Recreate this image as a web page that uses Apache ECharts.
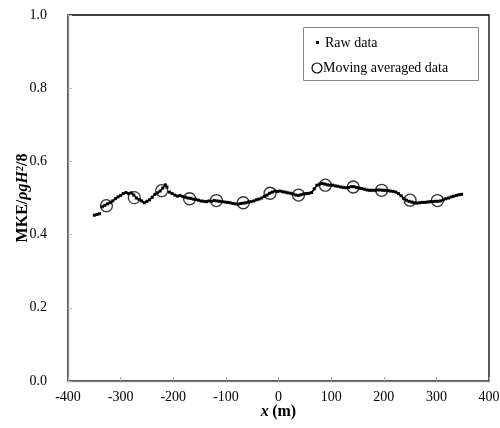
<!DOCTYPE html>
<html>
<head>
<meta charset="utf-8">
<script src="https://cdn.jsdelivr.net/npm/echarts@6/dist/echarts.min.js"></script>
<style>html,body{margin:0;padding:0;background:#fff}#c{width:500px;height:428px}</style>
</head>
<body>
<div id="c"></div>
<script>
var xTicks = [-400, -300, -200, -100, 0, 100, 200, 300, 400];
var yTicks = [0.0, 0.2, 0.4, 0.6, 0.8, 1.0];

var rawX = [-350,-345,-340,-338,-335,-330,-325,-320,-315,-310,-305,-300,-295,-290,-285,-280,-275,-270,-265,-260,-255,-250,-245,-240,-235,-230,-225,-220,-215,-212,-210,-207,-202,-197,-192,-187,-182,-177,-172,-167,-162,-157,-152,-147,-142,-137,-132,-127,-122,-117,-112,-107,-102,-97,-92,-87,-82,-77,-72,-67,-62,-57,-52,-47,-42,-37,-32,-27,-22,-17,-12,-7,-2,3,8,13,18,23,28,33,38,43,48,53,58,63,68,73,78,83,88,93,98,103,108,113,118,123,128,133,138,143,148,153,158,163,168,173,178,183,188,193,198,203,208,213,218,223,228,233,238,243,248,253,258,263,268,273,278,283,288,293,298,303,308,313,318,323,328,333,338,343,348];
var rawY = [0.453,0.455,0.457,null,0.476,0.480,0.484,0.487,0.492,0.498,0.503,0.507,0.512,0.515,0.512,0.514,0.508,0.500,0.496,0.492,0.487,0.491,0.495,0.502,0.510,0.514,0.519,0.527,0.536,0.530,null,0.516,0.512,0.508,0.505,0.507,0.504,0.502,0.500,0.499,0.497,0.496,0.494,0.492,0.491,0.490,0.492,0.491,0.493,0.492,0.491,0.490,0.489,0.488,0.487,0.485,0.484,0.483,0.485,0.486,0.487,0.489,0.490,0.492,0.495,0.497,0.500,0.504,0.508,0.513,0.516,0.519,0.518,0.519,0.517,0.516,0.514,0.513,0.511,0.508,0.507,0.509,0.511,0.512,0.513,0.515,0.525,0.535,0.538,0.540,0.538,0.536,0.535,0.535,0.533,0.532,0.530,0.529,0.528,0.529,0.531,0.531,0.529,0.527,0.526,0.524,0.522,0.521,0.521,0.521,0.522,0.522,0.521,0.521,0.520,0.519,0.518,0.516,0.512,0.506,0.499,0.494,0.491,0.489,0.487,0.486,0.487,0.488,0.488,0.489,0.490,0.490,0.491,0.491,0.492,0.495,0.498,0.500,0.503,0.505,0.507,0.509,0.510];

var avgX = [-327,-274,-222,-169,-118,-67,-16,38,89,142,196,250,302];
var avgY = [0.479,0.501,0.520,0.498,0.493,0.487,0.513,0.508,0.535,0.530,0.521,0.494,0.493];

var SERIF = '"Liberation Serif","DejaVu Serif",serif';

var rawData = rawX.map(function(x,i){ return [x, rawY[i]]; });
var avgData = avgX.map(function(x,i){ return [x, avgY[i]]; });

var chart = echarts.init(document.getElementById('c'), null, {renderer:'canvas'});
chart.setOption({
  animation: false,
  backgroundColor: '#fff',
  grid: { left: 68, right: 11, top: 15, bottom: 47, show: true, borderColor: '#000', borderWidth: 1.3,
    containLabel: false, outerBoundsMode: 'none' },
  xAxis: {
    type: 'value', min: xTicks[0], max: xTicks[xTicks.length-1], interval: 100,
    axisLine: { show: true, onZero: false, lineStyle: { color: '#888', width: 1.3 } },
    axisTick: { show: true, inside: true, length: 4, lineStyle: { color: '#aaa' } },
    splitLine: { show: false },
    axisLabel: { color: '#000', fontFamily: SERIF, fontSize: 14, margin: 9 },
    name: '{i|x} {b|(m)}', nameLocation: 'middle', nameGap: 23, nameMoveOverlap: false,
    nameTextStyle: { rich: {
      i: { fontFamily: SERIF, fontSize: 16, fontWeight: 'bold', fontStyle: 'italic', color: '#000' },
      b: { fontFamily: SERIF, fontSize: 16, fontWeight: 'bold', color: '#000' } } }
  },
  yAxis: {
    type: 'value', min: 0, max: 1, interval: 0.2,
    axisLine: { show: true, onZero: false, lineStyle: { color: '#888', width: 1.3 } },
    axisTick: { show: true, inside: true, length: 4, lineStyle: { color: '#bbb' } },
    splitLine: { show: false },
    axisLabel: { color: '#000', fontFamily: SERIF, fontSize: 14, margin: 21,
      formatter: function(v){ return v.toFixed(1); } },
    name: '{b|MKE/}{i|ρgH}{s|2}{b|/8}', nameLocation: 'middle', nameGap: 37, nameRotate: 90, nameMoveOverlap: false,
    nameTextStyle: { rich: {
      b: { fontFamily: SERIF, fontSize: 16, fontWeight: 'bold', color: '#000' },
      i: { fontFamily: SERIF, fontSize: 16, fontWeight: 'bold', fontStyle: 'italic', color: '#000' },
      s: { fontFamily: SERIF, fontSize: 10, fontWeight: 'bold', fontStyle: 'italic', color: '#000', verticalAlign: 'top', padding: [0,0,6,0] } } }
  },
  series: [
    { name: 'Raw data', type: 'line', data: rawData, connectNulls: false,
      symbol: 'rect', symbolSize: 3, showSymbol: true,
      lineStyle: { color: '#000', width: 1.6 }, itemStyle: { color: '#000' } },
    { name: 'Moving averaged data', type: 'scatter', data: avgData,
      symbol: 'circle', symbolSize: 12, z: 5,
      itemStyle: { color: 'rgba(255,255,255,0)', borderColor: '#000', borderWidth: 1.3 } }
  ],
  graphic: [
    { type: 'rect', left: 303, top: 27, shape: { width: 175, height: 53 },
      style: { fill: '#fff', stroke: '#888', lineWidth: 1 }, z: 10 },
    { type: 'rect', shape: { x: 316, y: 41, width: 3, height: 3 }, style: { fill: '#000' }, z: 11 },
    { type: 'text', x: 325, y: 43, style: { text: 'Raw data', font: '14px ' + SERIF, fill: '#000', textVerticalAlign: 'middle' }, z: 11 },
    { type: 'circle', shape: { cx: 317, cy: 68, r: 5 }, style: { fill: 'none', stroke: '#000', lineWidth: 1.2 }, z: 11 },
    { type: 'text', x: 323, y: 68, style: { text: 'Moving averaged data', font: '14px ' + SERIF, fill: '#000', textVerticalAlign: 'middle' }, z: 11 }
  ]
});
</script>
</body>
</html>
